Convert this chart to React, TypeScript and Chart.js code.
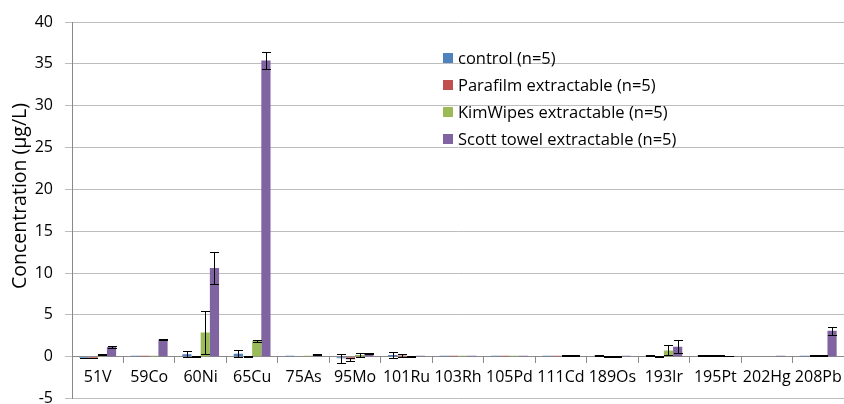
import React, { useEffect, useRef } from 'react';
import { Chart, registerables } from 'chart.js';

Chart.register(...registerables);

const categories = ['51V', '59Co', '60Ni', '65Cu', '75As', '95Mo', '101Ru', '103Rh', '105Pd', '111Cd', '189Os', '193Ir', '195Pt', '202Hg', '208Pb'];

const seriesLabels = ['control (n=5)', 'Parafilm extractable (n=5)', 'KimWipes extractable (n=5)', 'Scott towel extractable (n=5)'];
const seriesColors = ['#4F81BD', '#C0504D', '#9BBB59', '#8064A2'];

const controlValues = [-0.15, 0.12, 0.3, 0.35, 0.12, -0.2, 0.2, 0.12, 0.12, 0.12, 0.15, 0.15, 0.12, 0, 0.12];
const controlErrors = [0.03, 0, 0.35, 0.4, 0, 0.5, 0.3, 0, 0, 0, 0.05, 0.05, 0.03, 0, 0];

const parafilmValues = [-0.15, 0.12, 0.05, 0.05, 0.05, -0.3, 0.15, 0.12, 0.12, 0.12, 0.05, 0.05, 0.12, 0, 0.12];
const parafilmErrors = [0.03, 0, 0.05, 0.05, 0, 0.2, 0.2, 0, 0, 0, 0.05, 0.05, 0.03, 0, 0.03];

const kimwipesValues = [0.25, 0.12, 2.9, 1.9, 0.12, 0.2, 0.05, 0.12, 0.12, 0.12, 0.05, 0.75, 0.12, 0, 0.12];
const kimwipesErrors = [0.03, 0, 2.6, 0.1, 0, 0.2, 0.05, 0, 0, 0.05, 0.05, 0.6, 0.03, 0, 0.03];

const scottValues = [1.15, 2.05, 10.6, 35.4, 0.3, 0.4, 0.12, 0.12, 0.12, 0.15, 0.12, 1.2, 0.05, 0.12, 3.1];
const scottErrors = [0.08, 0.08, 1.95, 1.05, 0.05, 0.08, 0, 0, 0, 0.05, 0, 0.8, 0.03, 0, 0.5];

const seriesValues = [controlValues, parafilmValues, kimwipesValues, scottValues];
const seriesErrors = [controlErrors, parafilmErrors, kimwipesErrors, scottErrors];

const yTitle = 'Concentration (µg/L)';
const FONT = "'Open Sans', 'Noto Sans', sans-serif";

const errorBarPlugin = {
  id: 'errorBars',
  afterDatasetsDraw(chart: any) {
    const ctx = chart.ctx;
    const y = chart.scales.y;
    ctx.save();
    ctx.strokeStyle = '#000';
    ctx.lineWidth = 1;
    chart.data.datasets.forEach((ds: any, i: number) => {
      const meta = chart.getDatasetMeta(i);
      const errs = seriesErrors[i];
      meta.data.forEach((bar: any, j: number) => {
        const e = errs[j];
        if (!e) return;
        const v = ds.data[j];
        const top = Math.round(y.getPixelForValue(v + e)) + 0.5;
        const bot = Math.round(y.getPixelForValue(v - e)) + 0.5;
        const x = Math.round(bar.x) + 0.5;
        const hw = 4.5;
        ctx.beginPath();
        ctx.moveTo(x, top);
        ctx.lineTo(x, bot);
        ctx.moveTo(x - hw, top);
        ctx.lineTo(x + hw, top);
        ctx.moveTo(x - hw, bot);
        ctx.lineTo(x + hw, bot);
        ctx.stroke();
      });
    });
    ctx.restore();
  },
};

const legendPlugin = {
  id: 'insideLegend',
  afterDraw(chart: any) {
    const ctx = chart.ctx;
    ctx.save();
    ctx.font = `16.5px ${FONT}`;
    ctx.textBaseline = 'middle';
    ctx.textAlign = 'left';
    chart.data.datasets.forEach((ds: any, i: number) => {
      const cy = 58 + i * 27;
      ctx.fillStyle = ds.backgroundColor;
      ctx.fillRect(443, cy - 5, 10, 10);
      ctx.fillStyle = '#000';
      ctx.fillText(ds.label, 458, cy + 1);
    });
    ctx.restore();
  },
};

const titlePlugin = {
  id: 'yTitle',
  afterDraw(chart: any) {
    const ctx = chart.ctx;
    ctx.save();
    ctx.translate(20, 196);
    ctx.rotate(-Math.PI / 2);
    ctx.font = `19.5px ${FONT}`;
    ctx.fillStyle = '#000';
    ctx.textAlign = 'center';
    ctx.textBaseline = 'middle';
    ctx.fillText(yTitle, 0, 0);
    ctx.restore();
  },
};

export default function App() {
  const ref = useRef<HTMLCanvasElement>(null);
  useEffect(() => {
    const chart = new Chart(ref.current as HTMLCanvasElement, {
      type: 'bar',
      data: {
        labels: categories,
        datasets: seriesLabels.map((label, i) => ({
          label,
          data: seriesValues[i],
          backgroundColor: seriesColors[i],
          borderWidth: 0,
          categoryPercentage: 0.715,
          barPercentage: 1,
        })),
      },
      options: {
        responsive: false,
        animation: false,
        devicePixelRatio: 1,
        layout: { padding: { top: 22, bottom: 5.5, left: 0, right: 0 } },
        plugins: { legend: { display: false }, tooltip: { enabled: false } },
        scales: {
          x: {
            position: { y: 0 } as any,
            offset: true,
            grid: { display: true, drawOnChartArea: false, drawTicks: true, tickLength: 6, offset: true, color: '#898989' },
            border: { display: true, color: '#898989' },
            ticks: { color: '#000', font: { family: FONT, size: 16 }, padding: 5, maxRotation: 0, autoSkip: false },
            afterFit: (s: any) => { s.paddingLeft = 0; s.paddingRight = 0; },
          } as any,
          y: {
            min: -5,
            max: 40,
            ticks: { stepSize: 5, color: '#000', font: { family: FONT, size: 16 }, padding: 12 },
            grid: { color: '#BDBDBD', tickLength: 7, drawTicks: true },
            border: { display: true, color: '#898989' },
            afterFit: (s: any) => { s.width = 72; s.paddingTop = 0; s.paddingBottom = 0; },
          } as any,
        },
      },
      plugins: [errorBarPlugin, legendPlugin, titlePlugin],
    });
    return () => chart.destroy();
  }, []);
  return (
    <div style={{ position: 'absolute', left: 0, top: 0, width: 844, height: 404, background: '#fff' }}>
      <canvas ref={ref} width={844} height={404} style={{ display: 'block' }} />
    </div>
  );
}
